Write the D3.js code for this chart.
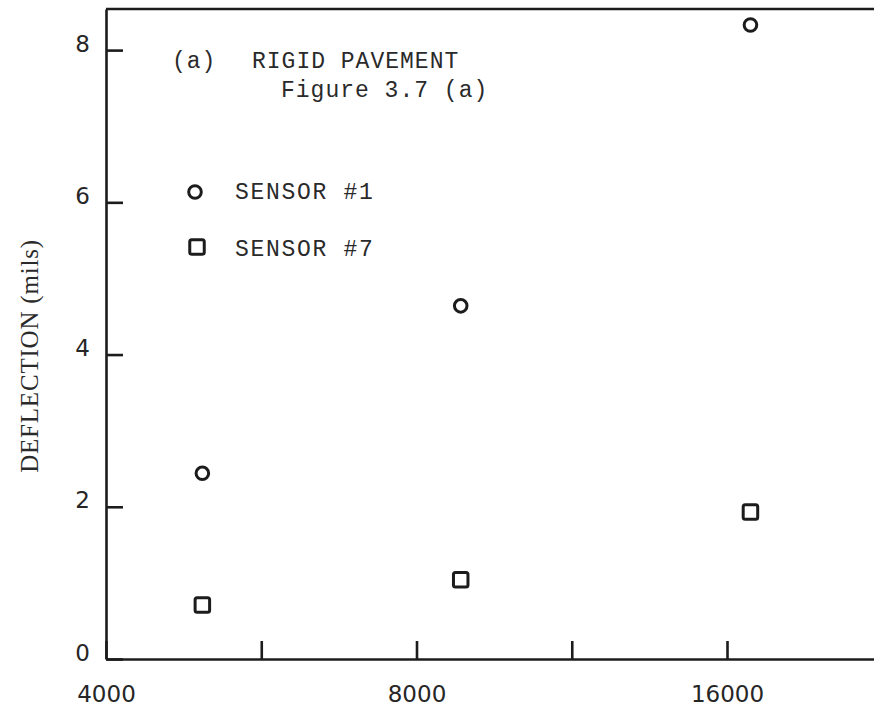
<!DOCTYPE html>
<html>
<head>
<meta charset="utf-8">
<script src="https://cdn.jsdelivr.net/npm/d3@7"></script>
<style>
  html, body { margin: 0; padding: 0; background: #fff; }
  svg { display: block; }
</style>
</head>
<body>
<svg id="chart" width="874" height="711"></svg>
<script>
// Load levels (x) and measured deflections (mils) for the two sensors
const loads = [4960, 8830, 16860];
const sensor1 = [2.44, 4.64, 8.33];
const sensor7 = [0.71, 1.04, 1.93];

const yTicks = [0, 2, 4, 6, 8];
const xTicks = [4000, 5657, 8000, 11314, 16000];
const xTickLabels = { 4000: "4000", 8000: "8000", 16000: "16000" };

const ink = "#1c1c1c";
const svg = d3.select("#chart");

// Log-2 load axis; the frame runs past the right edge of the page
const x = d3.scaleLog().base(2).domain([4000, 32000]).range([106, 106 + 3 * 310.5]);
const y = d3.scaleLinear().domain([0, 8.54]).range([659, 9]);

// Top border of the frame
svg.append("line")
  .attr("x1", x(4000)).attr("x2", x(32000))
  .attr("y1", y(8.54)).attr("y2", y(8.54))
  .attr("stroke", ink).attr("stroke-width", 2.6);

// Left axis with inward ticks
const yAxis = svg.append("g")
  .attr("transform", `translate(${x(4000)},0)`)
  .call(d3.axisLeft(y).tickValues(yTicks).tickSizeInner(-17).tickSizeOuter(0).tickPadding(16)
    .tickFormat(d3.format("d")));
yAxis.select(".domain").attr("stroke", ink).attr("stroke-width", 2.6);
yAxis.selectAll(".tick line").attr("stroke", ink).attr("stroke-width", 2.6);
yAxis.selectAll(".tick text")
  .attr("dy", "0.05em")
  .attr("fill", "#262626")
  .style("font-family", "'DejaVu Sans', sans-serif")
  .style("font-size", "23px");

// Bottom axis with upward ticks
const xAxis = svg.append("g")
  .attr("transform", `translate(0,${y(0)})`)
  .call(d3.axisBottom(x).tickValues(xTicks).tickSizeInner(-18).tickSizeOuter(0)
    .tickFormat(d => xTickLabels[d] || ""));
xAxis.select(".domain").attr("stroke", ink).attr("stroke-width", 2.6);
xAxis.selectAll(".tick line").attr("stroke", ink).attr("stroke-width", 2.6);
xAxis.selectAll(".tick text")
  .attr("y", 43).attr("dy", 0)
  .attr("fill", "#262626")
  .style("font-family", "'DejaVu Sans', sans-serif")
  .style("font-size", "23px");

// Y-axis title
svg.append("text")
  .attr("transform", "translate(38,356) rotate(-90)")
  .attr("text-anchor", "middle")
  .attr("fill", "#2a2a2a")
  .style("font-family", "'Liberation Serif', serif")
  .style("font-size", "25px")
  .style("letter-spacing", "0.8px")
  .text("DEFLECTION (mils)");

// Panel caption
const mono = "'Liberation Mono', monospace";
svg.append("text").attr("x", 172).attr("y", 68)
  .attr("fill", "#2a2a2a").style("font-family", mono).style("font-size", "23px")
  .style("letter-spacing", "1px").text("(a)");
svg.append("text").attr("x", 252).attr("y", 68)
  .attr("fill", "#2a2a2a").style("font-family", mono).style("font-size", "23px")
  .style("letter-spacing", "1px").text("RIGID PAVEMENT");
svg.append("text").attr("x", 281).attr("y", 97)
  .attr("fill", "#2a2a2a").style("font-family", mono).style("font-size", "23px")
  .style("letter-spacing", "1px").text("Figure 3.7 (a)");

// Markers
function drawCircle(g, cx, cy) {
  g.append("circle").attr("cx", cx).attr("cy", cy).attr("r", 6.3)
    .attr("fill", "none").attr("stroke", ink).attr("stroke-width", 3);
}
function drawSquare(g, cx, cy) {
  const s = 14.5;
  g.append("rect").attr("x", cx - s / 2).attr("y", cy - s / 2)
    .attr("width", s).attr("height", s).attr("rx", 2)
    .attr("fill", "none").attr("stroke", ink).attr("stroke-width", 3);
}

const pts = svg.append("g");
loads.forEach((l, i) => {
  drawCircle(pts, x(l), y(sensor1[i]));
  drawSquare(pts, x(l), y(sensor7[i]));
});

// Legend
const legend = svg.append("g");
drawCircle(legend, 195, 192);
drawSquare(legend, 197, 247);
legend.append("text").attr("x", 235).attr("y", 199)
  .attr("fill", "#2a2a2a").style("font-family", mono).style("font-size", "23px")
  .style("letter-spacing", "1.7px").text("SENSOR #1");
legend.append("text").attr("x", 235).attr("y", 256)
  .attr("fill", "#2a2a2a").style("font-family", mono).style("font-size", "23px")
  .style("letter-spacing", "1.7px").text("SENSOR #7");
</script>
</body>
</html>
